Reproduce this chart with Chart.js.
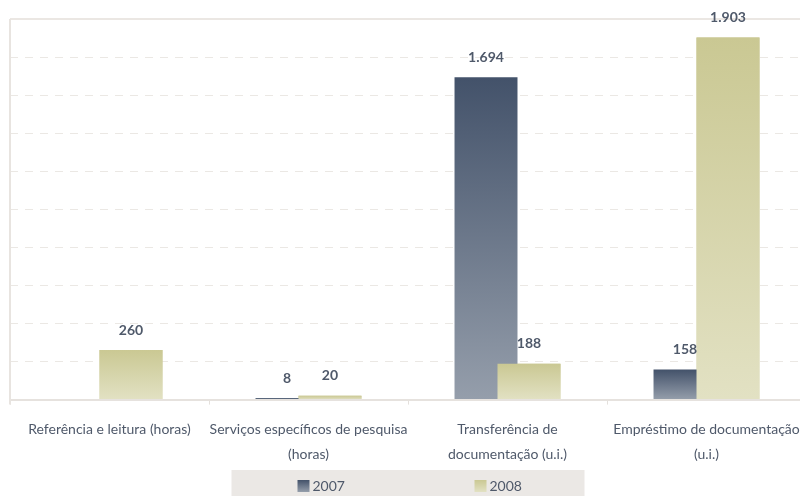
<!DOCTYPE html>
<html>
<head>
<meta charset="utf-8">
<script src="https://cdn.jsdelivr.net/npm/chart.js@4/dist/chart.umd.min.js"></script>
<style>
html,body{margin:0;padding:0;background:#fff;overflow:hidden;width:800px;height:496px;}
#wrap{position:absolute;left:0;top:0;width:818px;height:496px;}
</style>
</head>
<body>
<div id="wrap"><canvas id="c" width="818" height="496"></canvas></div>
<script>
// ---- data ----
const categories = [
  ["Referência e leitura (horas)"],
  ["Serviços específicos de pesquisa", "(horas)"],
  ["Transferência de", "documentação (u.i.)"],
  ["Empréstimo de documentação", "(u.i.)"]
];
const seriesLabels = ["2007", "2008"];
const values2007 = [null, 8, 1694, 158];
const values2008 = [260, 20, 188, 1903];
const yMin = 0, yMax = 2000, yStep = 200;

// ---- styles ----
const gradStops = {
  "2007": ["#43526a", "#959eab"],
  "2008": ["#cac893", "#e2e1c3"]
};
const textColor = "#4f596a";
const fontFamily = "Lato, 'Open Sans', sans-serif";

function barGradient(key) {
  return function (c) {
    const chart = c.chart;
    const stops = gradStops[key];
    if (c.type !== 'data' || !chart.chartArea || c.parsed == null || c.parsed.y == null) return stops[0];
    const ys = chart.scales.y;
    const top = ys.getPixelForValue(c.parsed.y);
    const bot = ys.getPixelForValue(0);
    if (!isFinite(top) || !isFinite(bot) || Math.abs(bot - top) < 0.5) return stops[0];
    const g = chart.ctx.createLinearGradient(0, top, 0, bot);
    g.addColorStop(0, stops[0]);
    g.addColorStop(1, stops[1]);
    return g;
  };
}

function fmt(v) {
  return String(v).replace(/\B(?=(\d{3})+(?!\d))/g, ".");
}

const framePlugin = {
  id: 'frame',
  beforeDatasetsDraw(chart) {
    const {ctx, chartArea: a} = chart;
    ctx.save();
    ctx.strokeStyle = '#ebe7e3';
    ctx.lineWidth = 2;
    ctx.beginPath();
    ctx.moveTo(a.left, a.top);
    ctx.lineTo(a.right, a.top);
    ctx.stroke();
    ctx.strokeStyle = '#e8e4e0';
    ctx.beginPath();
    ctx.moveTo(a.left, a.top);
    ctx.lineTo(a.left, a.bottom + 5);
    ctx.stroke();
    ctx.restore();
  },
  afterDatasetsDraw(chart) {
    const {ctx} = chart;
    // redraw 2008 on top of 2007 (overlapping bars)
    ctx.save();
    chart.getDatasetMeta(1).controller.draw();
    ctx.restore();
    // value labels
    ctx.save();
    ctx.font = "bold 14px " + fontFamily;
    ctx.fillStyle = textColor;
    ctx.textAlign = 'center';
    ctx.textBaseline = 'middle';
    chart.data.datasets.forEach((ds, di) => {
      const meta = chart.getDatasetMeta(di);
      meta.data.forEach((bar, i) => {
        const v = ds.data[i];
        if (v == null) return;
        ctx.fillText(fmt(v), bar.x, bar.y - 20);
      });
    });
    ctx.restore();
  },
  afterDraw(chart) {
    const {ctx, chartArea: a} = chart;
    const cx = (a.left + a.right) / 2;
    const boxW = 353, boxTop = 470;
    const left = cx - boxW / 2;
    ctx.save();
    ctx.fillStyle = '#ebe8e5';
    ctx.fillRect(left, boxTop, boxW, chart.height - boxTop);
    const itemX = [left + 66, left + 243];
    const cy = 486;
    ctx.font = "14px " + fontFamily;
    ctx.textBaseline = 'middle';
    ctx.textAlign = 'left';
    chart.data.datasets.forEach((ds, di) => {
      const x = itemX[di];
      const stops = gradStops[ds.label];
      const g = ctx.createLinearGradient(0, cy - 6, 0, cy + 6);
      g.addColorStop(0, stops[0]);
      g.addColorStop(1, stops[1]);
      ctx.fillStyle = g;
      ctx.fillRect(x, cy - 6, 12, 12);
      ctx.fillStyle = textColor;
      ctx.fillText(ds.label, x + 15, cy);
    });
    ctx.restore();
  }
};

new Chart(document.getElementById('c'), {
  type: 'bar',
  data: {
    labels: categories,
    datasets: [
      { label: seriesLabels[0], data: values2007, backgroundColor: barGradient("2007"), borderWidth: 0 },
      { label: seriesLabels[1], data: values2008, backgroundColor: barGradient("2008"), borderWidth: 0 }
    ]
  },
  options: {
    responsive: false,
    devicePixelRatio: 1,
    animation: false,
    categoryPercentage: 0.432,
    barPercentage: 1.465,
    layout: { padding: { left: 10, right: 12, top: 19, bottom: 17 } },
    plugins: {
      legend: { display: false },
      tooltip: { enabled: false }
    },
    scales: {
      x: {
        grid: { drawOnChartArea: false, drawTicks: true, tickLength: 5, color: '#e4e0dc', offset: true },
        border: { display: true, color: '#e6e2de', width: 2 },
        ticks: {
          color: textColor,
          font: { family: fontFamily, size: 14, lineHeight: 1.8 },
          padding: 12,
          maxRotation: 0,
          autoSkip: false
        }
      },
      y: {
        min: yMin, max: yMax,
        ticks: { display: false, stepSize: yStep },
        grid: { color: '#ebe8e4', lineWidth: 1, drawTicks: false },
        border: { display: false, dash: [8, 7] }
      }
    }
  },
  plugins: [framePlugin]
});
</script>
</body>
</html>
